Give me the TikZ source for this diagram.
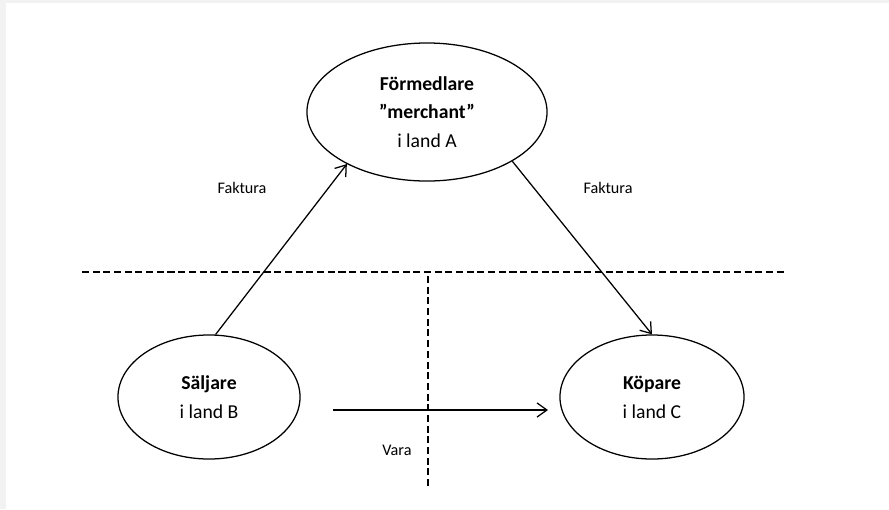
\documentclass[tikz,border=0pt]{standalone}
\usepackage{fontspec}
\setmainfont{Carlito}
\usetikzlibrary{shapes.geometric,arrows.meta}
\definecolor{pagegray}{HTML}{F2F2F2}
\tikzset{
    party/.style={ellipse, draw, line width=0.9pt, align=center,
        font=\fontsize{14}{20.5}\selectfont, inner sep=0pt},
    flow/.style={line width=0.9pt, -{Straight Barb[length=7pt, width=10pt, line width=0.9pt]}},
    border/.style={line width=0.9pt, dash pattern=on 5pt off 2.6pt},
    lbl/.style={font=\fontsize{11.5}{13}\selectfont}
}
\begin{document}
\begin{tikzpicture}[x=0.025cm, y=-0.025cm]
    \fill[pagegray] (0,0) rectangle (889,509);
    \fill[white] (6,3) rectangle (889,509);
    \useasboundingbox (0,0) rectangle (889,509);

    % country borders
    \coordinate (hL) at (82,272);
    \coordinate (hR) at (787,272);
    \coordinate (vT) at (428,276);
    \coordinate (vB) at (428,489);
    \draw[border] (hL) -- (hR);
    \draw[border] (vT) -- (vB);

    \node[party, minimum width=6cm, minimum height=3.45cm] (form) at (427,112)
        {\textbf{Förmedlare}\\\textbf{”merchant”}\\i land A};
    \node[party, minimum width=4.55cm, minimum height=3.1cm] (salj) at (209,397)
        {\textbf{Säljare}\\i land B};
    \node[party, minimum width=4.6cm, minimum height=3.1cm] (kop) at (652,397)
        {\textbf{Köpare}\\i land C};

    \draw[flow] (salj.84) -- (form.213);
    \draw[flow] (form.-30) -- (kop.north);

    \coordinate (varaS) at (333,410);
    \coordinate (varaE) at (548,410);
    \draw[flow] (varaS) -- (varaE);

    \node[lbl] (fakL) at (242,188) {Faktura};
    \node[lbl] (fakR) at (608,188) {Faktura};
    \node[lbl] (vara) at (397,450) {Vara};
\end{tikzpicture}
\end{document}
